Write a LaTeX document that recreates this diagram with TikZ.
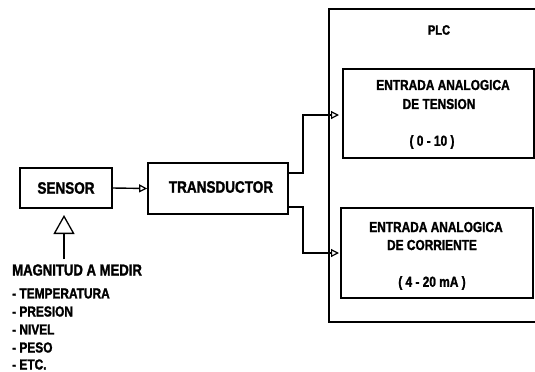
\documentclass[tikz,border=0pt]{standalone}
\usepackage{fontspec}
\setmainfont{Liberation Sans}[FakeStretch=0.82,BoldFeatures={FakeBold=1.5}]
\usetikzlibrary{arrows.meta}
\begin{document}
\begin{tikzpicture}[x=1bp,y=-1bp,
  box/.style={draw=black,line width=1.7bp,inner sep=0pt},
  lbl/.style={inner sep=0pt,font=\bfseries\fontsize{#1bp}{#1bp}\selectfont},
  lbl/.default=14.5,
  conn/.style={line width=1.4bp},
  smallhead/.style={-{Triangle[open,length=8bp,width=8bp,line width=1.2bp]}},
  bighead/.style={-{Triangle[open,length=19bp,width=21bp,line width=1.3bp]}}]
\useasboundingbox (0,0) rectangle (535,371);
\clip (0,0) rectangle (535,371);
% blocks
\node[box,minimum width=92bp,minimum height=40bp] (sensor) at (66,188) {};
\node[lbl=16.5] (sensortxt) at (66,188) {SENSOR};
\node[box,minimum width=140bp,minimum height=51bp] (trans) at (218,188.5) {};
\node[lbl=16.5] (transtxt) at (221,187) {TRANSDUCTOR};
% PLC
\draw[box] (329,9) rectangle (545,322);
\node[lbl=13.5] (plc) at (439,30) {PLC};
\node[box,minimum width=191bp,minimum height=89bp] (ain1) at (438.5,113.5) {};
\node[lbl] (a1l1) at (443,85) {ENTRADA ANALOGICA};
\node[lbl] (a1l2) at (439,104) {DE TENSION};
\node[lbl] (a1l3) at (432,142) {( 0 - 10 )};
\node[box,minimum width=192bp,minimum height=90bp] (ain2) at (437,253) {};
\node[lbl] (a2l1) at (436,227) {ENTRADA ANALOGICA};
\node[lbl] (a2l2) at (432,245) {DE CORRIENTE};
\node[lbl] (a2l3) at (432,283) {( 4 - 20 mA )};
% magnitude
\node[lbl=16,anchor=west] (mag) at (12,270) {MAGNITUD A MEDIR};
\node[lbl=14.5,anchor=west] (m1) at (12,293.5) {- TEMPERATURA};
\node[lbl=14.5,anchor=west] (m2) at (12,311.5) {- PRESION};
\node[lbl=14.5,anchor=west] (m3) at (12,329.5) {- NIVEL};
\node[lbl=14.5,anchor=west] (m4) at (12,347.5) {- PESO};
\node[lbl=14.5,anchor=west] (m5) at (12,364.5) {- ETC.};
% connectors
\coordinate (magtop) at (64,259);
\coordinate (sensin) at (64,215);
\draw[conn,bighead] (magtop) -- (sensin);
\draw[conn,smallhead] (sensor.east) -- (trans.west);
\coordinate (t1) at (288,173);
\coordinate (t2) at (288,207);
\coordinate (in1) at (339,115);
\coordinate (in2) at (339,253);
\draw[conn,smallhead] (t1) -- (303,173) |- (in1);
\draw[conn,smallhead] (t2) -- (303,207) |- (in2);
\end{tikzpicture}
\end{document}
